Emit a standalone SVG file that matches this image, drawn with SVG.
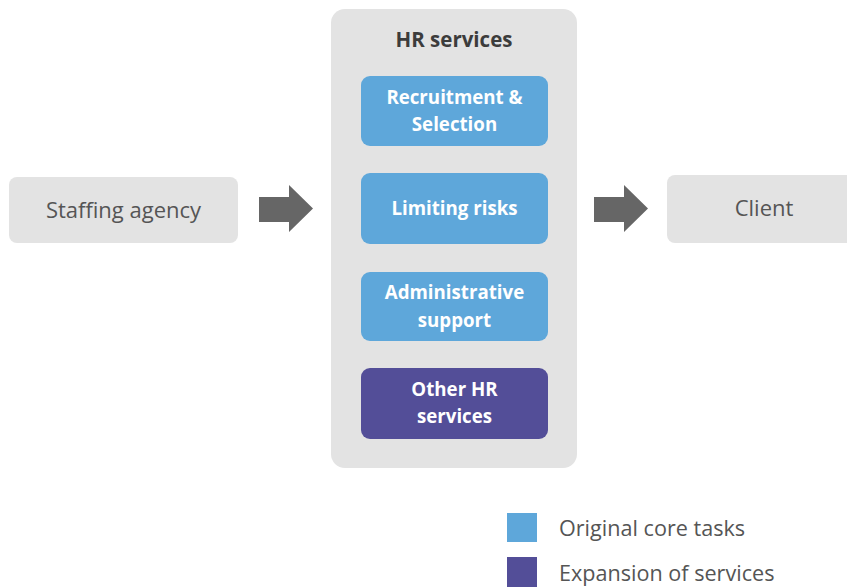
<svg xmlns="http://www.w3.org/2000/svg" width="847" height="587" viewBox="0 0 847 587">
  <defs>
    <style>
      .gray { fill: #e3e3e3; }
      .core { fill: #5ea7da; }
      .expand { fill: #534e98; }
      .label { font-family: "Open Sans", "Noto Sans", "Liberation Sans", sans-serif; font-size: 22px; fill: #555555; text-anchor: middle; }
      .title { font-family: "Open Sans", "Noto Sans", "Liberation Sans", sans-serif; font-size: 20.5px; font-weight: bold; fill: #3c3c3c; text-anchor: middle; }
      .inner { font-family: "Open Sans", "Noto Sans", "Liberation Sans", sans-serif; font-size: 18.7px; font-weight: bold; fill: #ffffff; text-anchor: middle; }
      .legend { font-family: "Open Sans", "Noto Sans", "Liberation Sans", sans-serif; font-size: 21.6px; fill: #555555; }
      .arrow { fill: #666666; }
    </style>
  </defs>

  <rect width="847" height="587" fill="#ffffff"/>

  <g id="staffing-agency">
    <rect class="gray" x="9" y="177" width="229" height="66" rx="8"/>
    <text class="label" x="123.5" y="218">Staffing agency</text>
  </g>

  <g id="hr-services">
    <rect class="gray" x="331" y="9" width="246" height="459" rx="14"/>
    <text class="title" x="454" y="47">HR services</text>
  </g>

  <g id="recruitment">
    <rect class="core" x="361" y="76" width="187" height="70" rx="9"/>
    <text class="inner" x="454.5" y="104">Recruitment &amp;</text>
    <text class="inner" x="454.5" y="131">Selection</text>
  </g>

  <g id="limiting-risks">
    <rect class="core" x="361" y="173" width="187" height="71" rx="9"/>
    <text class="inner" x="454.5" y="215">Limiting risks</text>
  </g>

  <g id="administrative-support">
    <rect class="core" x="361" y="272" width="187" height="69" rx="9"/>
    <text class="inner" x="454.5" y="299">Administrative</text>
    <text class="inner" x="454.5" y="327">support</text>
  </g>

  <g id="other-hr-services">
    <rect class="expand" x="361" y="368" width="187" height="71" rx="9"/>
    <text class="inner" x="454.5" y="396">Other HR</text>
    <text class="inner" x="454.5" y="423">services</text>
  </g>

  <g id="client">
    <rect class="gray" x="667" y="175" width="195" height="68" rx="8"/>
    <text class="label" x="764" y="216">Client</text>
  </g>

  <g id="connectors">
    <polygon class="arrow" points="259,197 289,197 289,185 313,208.5 289,232 289,222 259,222"/>
    <polygon class="arrow" points="594,197 624,197 624,185 648,208.5 624,232 624,222 594,222"/>
  </g>

  <g id="legend">
    <rect class="core" x="507" y="513" width="30" height="29"/>
    <text class="legend" x="559" y="536">Original core tasks</text>
    <rect class="expand" x="507" y="557" width="30" height="30"/>
    <text class="legend" x="559" y="581">Expansion of services</text>
  </g>
</svg>
